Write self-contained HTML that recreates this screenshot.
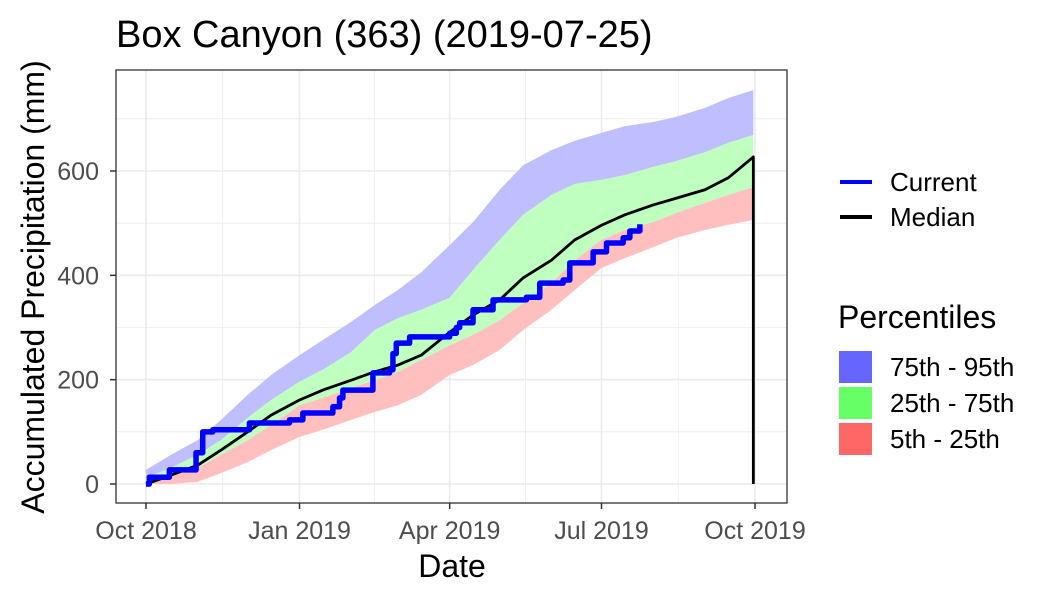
<!DOCTYPE html>
<html><head><meta charset="utf-8"><style>
body{margin:0;background:#fff}
svg text{font-family:"Liberation Sans",sans-serif}
</style></head><body>
<svg id="chart" width="1050" height="600" xmlns="http://www.w3.org/2000/svg">
<rect width="1050" height="600" fill="#fff"/>
<text x="116" y="47" font-size="38" fill="#000">Box Canyon (363) (2019-07-25)</text>
<g id="grid"></g>
<g id="bands"></g>
<g id="lines"></g>
<rect x="116" y="70" width="671" height="433" fill="none" stroke="#333" stroke-width="1.3"/>
<g id="axes"></g>
<text x="452" y="577" font-size="32" text-anchor="middle">Date</text>
<text transform="translate(44,287) rotate(-90)" font-size="32" text-anchor="middle">Accumulated Precipitation (mm)</text>
<g>
<line x1="840" y1="182" x2="872" y2="182" stroke="#0000ff" stroke-width="4"/>
<text x="890" y="191" font-size="26">Current</text>
<line x1="840" y1="217" x2="872" y2="217" stroke="#000" stroke-width="4"/>
<text x="890" y="226" font-size="26">Median</text>
<text x="838" y="328" font-size="32">Percentiles</text>
<rect x="839" y="351" width="33" height="32" fill="#6666ff"/>
<text x="890" y="376" font-size="26">75th - 95th</text>
<rect x="839" y="387" width="33" height="32" fill="#66ff66"/>
<text x="890" y="412" font-size="26">25th - 75th</text>
<rect x="839" y="423" width="33" height="32" fill="#ff6666"/>
<text x="890" y="448" font-size="26">5th - 25th</text>
</g>
</svg>
<script>
const bandDays=[0,15,31,45,61,75,92,106,123,137,151,165,182,196,212,226,243,257,273,287,304,318,335,349,364];
const p95=[27,56,84,123,171,209,247,276,311,343,372,406,458,502,564,611,640,658,673,686,694,704,721,740,755];
const p75=[12,31,56,84,127,161,196,219,253,295,318,334,357,410,468,516,554,575,583,592,608,619,636,654,669];
const p25=[4,15,31,56,84,113,151,165,184,199,215,238,266,286,314,347,385,429,468,487,502,520,539,554,569];
const p5=[0,0,4,21,42,65,90,104,123,138,151,171,209,228,257,295,334,372,414,433,454,472,487,497,506];
const median=[0,17,36,65,100,132,161,180,199,215,228,247,291,324,353,395,429,468,496,516,535,548,564,587,627];
const currentDays=[0,2,8,14,26,30,34,40,62,86,94,112,116,118,136,146,148,150,158,182,186,188,196,208,228,236,250,254,262,268,276,286,290,296];
const currentVals=[0,13,13,27,27,60,100,104,117,123,136,148,165,180,213,219,250,270,282,289,300,309,334,353,358,385,391,424,424,445,462,472,485,498];
const xTickDays=[0,92,182,273,365];
const xTickLabels=["Oct 2018","Jan 2019","Apr 2019","Jul 2019","Oct 2019"];
const yTicks=[0,200,400,600];

const X=d=>146+d*(755-146)/365;
const Y=v=>484-v*(484-171)/600;
const NS="http://www.w3.org/2000/svg";
function mk(parent,tag,attrs){const e=document.createElementNS(NS,tag);for(const k in attrs)e.setAttribute(k,attrs[k]);document.getElementById(parent).appendChild(e);return e;}

for(let i=0;i<xTickDays.length-1;i++){const m=(xTickDays[i]+xTickDays[i+1])/2;
 const l=mk('grid','line',{x1:X(m),x2:X(m),y1:70,y2:503,stroke:'#ebebeb','stroke-width':0.8});
 
 }
for(let i=0;i<yTicks.length;i++){const m=yTicks[i]+100;
 const l=mk('grid','line',{x1:116,x2:787,y1:Y(m),y2:Y(m),stroke:'#ebebeb','stroke-width':0.8});
 
 }
xTickDays.forEach((d,i)=>{
 const l=mk('grid','line',{x1:X(d),x2:X(d),y1:70,y2:503,stroke:'#ebebeb','stroke-width':1.6});
 
 
 const t=mk('axes','line',{x1:X(d),x2:X(d),y1:503,y2:509,stroke:'#333','stroke-width':1.5});
 
 
 const tx=mk('axes','text',{x:X(d),y:539,'font-size':25,'text-anchor':'middle',fill:'#4d4d4d'});
 tx.textContent=xTickLabels[i];
 
 
});
yTicks.forEach(v=>{
 const l=mk('grid','line',{x1:116,x2:787,y1:Y(v),y2:Y(v),stroke:'#ebebeb','stroke-width':1.6});
 
 
 const t=mk('axes','line',{x1:110,x2:116,y1:Y(v),y2:Y(v),stroke:'#333','stroke-width':1.5});
 
 
 const tx=mk('axes','text',{x:99,y:Y(v)+9,'font-size':25,'text-anchor':'end',fill:'#4d4d4d'});
 tx.textContent=v;
 
 
});
function band(lo,hi,fill,name){
 let pts=bandDays.map((d,i)=>X(d)+','+Y(hi[i]));
 pts=pts.concat(bandDays.slice().reverse().map((d,j)=>{const i=bandDays.length-1-j;return X(d)+','+Y(lo[i]);}));
 const p=mk('bands','polygon',{points:pts.join(' '),fill:fill});
 
 
}
band(p75,p95,'#bfbfff','band-75-95');
band(p25,p75,'#bfffbf','band-25-75');
band(p5,p25,'#ffbfbf','band-5-25');
let mp=bandDays.map((d,i)=>X(d)+','+Y(median[i]));
mp.push(X(364)+','+Y(0));
const med=mk('lines','polyline',{points:mp.join(' '),fill:'none',stroke:'#000','stroke-width':2.8,'stroke-linejoin':'round'});


let cp=[];
currentDays.forEach((d,i)=>{ if(i>0) cp.push(X(d)+','+Y(currentVals[i-1])); cp.push(X(d)+','+Y(currentVals[i])); });
const cur=mk('lines','polyline',{points:cp.join(' '),fill:'none',stroke:'#0000ff','stroke-width':5.5,'stroke-linejoin':'round'});


</script>
</body></html>
